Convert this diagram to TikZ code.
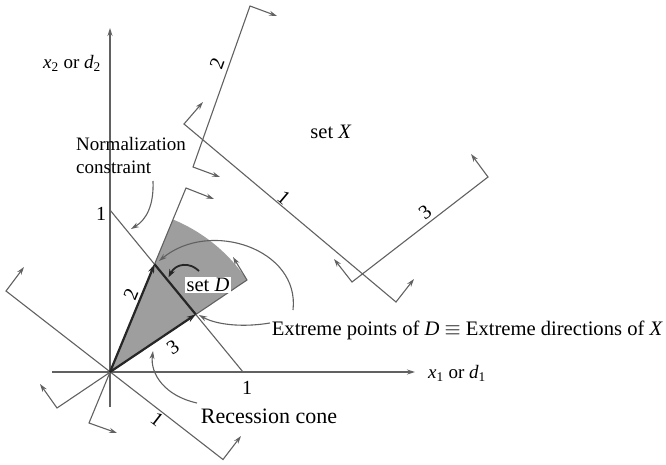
\documentclass[tikz,border=0pt]{standalone}
\usepackage{fontspec}
\setmainfont{Liberation Serif}
\usetikzlibrary{arrows.meta,calc}
\begin{document}
\begin{tikzpicture}[x=1pt,y=1pt,
  ln/.style={draw=black!62, line width=1.1pt},
  ah/.style={-{Stealth[length=8pt,width=5pt]}},
  dah/.style={{Stealth[length=8pt,width=5pt]}-{Stealth[length=8pt,width=5pt]}},
  thk/.style={draw=black!85, line width=2.2pt},
  thkah/.style={-{Stealth[length=9pt,width=6pt]}},
  lab/.style={font=\fontsize{20}{24}\selectfont, inner sep=0pt},
  txt/.style={font=\fontsize{19}{23}\selectfont, inner sep=0pt},
  big/.style={font=\fontsize{22}{26}\selectfont, inner sep=0pt},
  shadefill/.style={fill=black!38},
]
\useasboundingbox (0,0) rectangle (666,464);
% --- key points
\coordinate (O) at (110,92);
\coordinate (XL) at (52,92);  \coordinate (XR) at (415,92);
\coordinate (YB) at (110,57); \coordinate (YT) at (110,436);
\coordinate (N1) at (110,254); \coordinate (N2) at (243,92);
% lines through origin
\coordinate (R1a) at (6,173);   \coordinate (R1b) at (223,4.5);
\coordinate (R1aT) at (24,197); \coordinate (R1bT) at (241,28);
\coordinate (R2a) at (186,276); \coordinate (R2b) at (89,41);
\coordinate (R2aT) at (214,265); \coordinate (R2bT) at (117,31);
\coordinate (R3a) at (247,184); \coordinate (R3b) at (57,56);
\coordinate (R3aT) at (233,207); \coordinate (R3bT) at (40,80);
% extreme points
\coordinate (E2) at (intersection of N1--N2 and O--R2a);
\coordinate (E3) at (intersection of N1--N2 and O--R3a);
% set X lines
\coordinate (L1a) at (184,340); \coordinate (L1b) at (396,162);
\coordinate (L1aT) at (203,362); \coordinate (L1bT) at (414,185);
\coordinate (L2a) at (250,458); \coordinate (L2b) at (193,297);
\coordinate (L2aT) at (277,448); \coordinate (L2bT) at (220,287);
\coordinate (L3a) at (488,287); \coordinate (L3b) at (352,182);
\coordinate (L3aT) at (471,310); \coordinate (L3bT) at (334,205);

% --- shaded recession cone (sector)
\fill[shadefill] (O) -- (R3a) arc[start angle=33.88, end angle=67.56, radius=165] -- cycle;

% --- axes
\draw[ln, ah] (XL) -- (XR);
\draw[ln, ah] (YB) -- (YT);
\node[txt, anchor=west] (xlab) at (428,91) {\textit{x}\textsubscript{1} or \textit{d}\textsubscript{1}};
\node[txt] (ylab) at (72,401) {\textit{x}\textsubscript{2} or \textit{d}\textsubscript{2}};
\node[lab] (t1y) at (101,250) {1};
\node[lab] (t1x) at (247,76) {1};

% --- normalization line
\draw[ln] (N1) -- (N2);

% --- constraint lines through origin
\draw[ln, dah] (R1aT) -- (R1a) -- (R1b) -- (R1bT);
\draw[ln, dah] (R2bT) -- (R2b) -- (R2a) -- (R2aT);
\draw[ln, dah] (R3bT) -- (R3b) -- (R3a) -- (R3aT);
\node[lab, rotate=-37.8] (c1) at (157,45) {1};
\node[lab, rotate=67.6] (c2) at (131,170) {2};
\node[lab, rotate=33.9] (c3) at (173,117) {3};

% --- set X constraint lines
\draw[ln, dah] (L1aT) -- (L1a) -- (L1b) -- (L1bT);
\draw[ln, dah] (L2bT) -- (L2b) -- (L2a) -- (L2aT);
\draw[ln, dah] (L3bT) -- (L3b) -- (L3a) -- (L3aT);
\node[lab, rotate=-40] (x1) at (284,266) {1};
\node[lab, rotate=70.5] (x2) at (217,400) {2};
\node[lab, rotate=37.7] (x3) at (425,252) {3};
\node[txt, font=\fontsize{20.5}{24}\selectfont] (setX) at (331,332) {set \textit{X}};

% --- extreme directions (thick)
\draw[thk] (E2) -- (E3);
\draw[thk, thkah] (O) -- (E2);
\draw[thk, thkah] (O) -- (E3);

% --- set D label and arrow
\node[txt, font=\fontsize{20.5}{24}\selectfont, fill=white, inner sep=1.5pt] (setD) at (208,179) {set \textit{D}};
\coordinate (Dt) at ($(E2)!0.34!(E3)$);
\draw[draw=black!85, line width=1.8pt, -{Stealth[length=8pt,width=6pt]}] (199,193) .. controls (190,202) and (176,201) .. ($(Dt)+(0,4)$);

% --- normalization constraint annotation
\node[txt, align=left, anchor=west] (norm) at (76,308) {Normalization\\constraint};
\draw[ln, ah] (153,283) .. controls (154,258) and (146,244) .. (131,235);

% --- extreme points annotation
\node[big, font=\fontsize{20.6}{25}\selectfont, anchor=east] (ext) at (663,134) {Extreme points of \textit{D} $\equiv$ Extreme directions of \textit{X}};
\draw[ln, ah] (293,154) .. controls (300,215) and (210,245) .. (159,203);
\draw[ln, ah] (270,141) .. controls (240,136) and (215,140) .. (199,149);

% --- recession cone annotation
\node[big] (rec) at (269,48) {Recession cone};
\draw[ln, ah] (197,61) .. controls (165,68) and (150,90) .. (153,113);
\end{tikzpicture}
\end{document}
